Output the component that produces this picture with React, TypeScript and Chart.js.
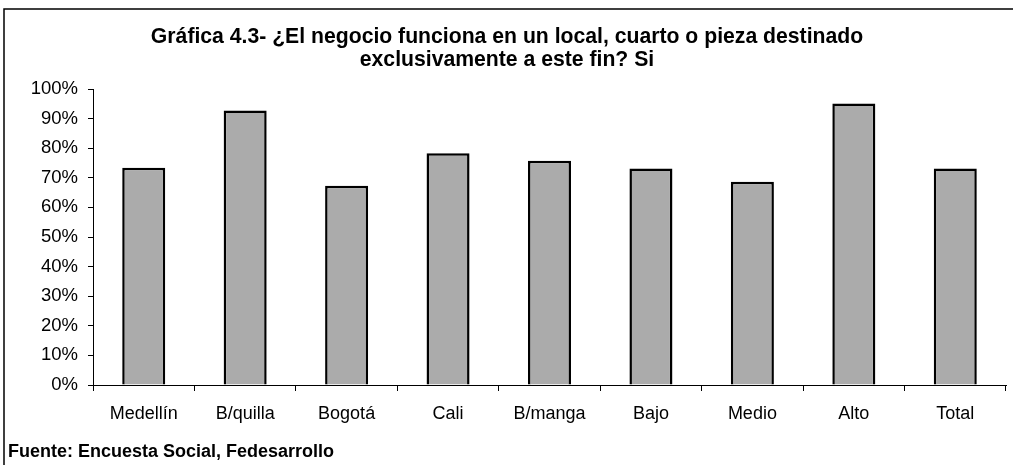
import React, { useEffect, useRef } from "react";
import { Chart, registerables } from "chart.js";

Chart.register(...registerables);

const categories = ["Medellín", "B/quilla", "Bogotá", "Cali", "B/manga", "Bajo", "Medio", "Alto", "Total"];
const siValues = [73.4, 92.7, 67.3, 78.3, 75.8, 73.1, 68.7, 95.1, 73.1];
const yTickValues = [0, 10, 20, 30, 40, 50, 60, 70, 80, 90, 100];
const titleLines = [
  "Gráfica 4.3- ¿El negocio funciona en un local, cuarto o pieza destinado",
  "exclusivamente a este fin? Si",
];
const sourceText = "Fuente: Encuesta Social, Fedesarrollo";

const FONT = "'Liberation Sans', Arial, Helvetica, sans-serif";

const framePlugin = {
  id: "frame",
  afterDraw(chart: any) {
    const ctx = chart.ctx;
    ctx.save();
    ctx.strokeStyle = "#000";
    ctx.lineWidth = 1.5;
    ctx.beginPath();
    ctx.moveTo(4, chart.height);
    ctx.lineTo(4, 9);
    ctx.lineTo(chart.width, 9);
    ctx.stroke();
    ctx.restore();
  },
};

export default function App() {
  const canvasRef = useRef<HTMLCanvasElement | null>(null);

  useEffect(() => {
    if (!canvasRef.current) return;
    const chart = new Chart(canvasRef.current, {
      type: "bar",
      data: {
        labels: categories,
        datasets: [
          {
            label: "Si",
            data: siValues,
            backgroundColor: "#ababab",
            borderColor: "#000",
            borderWidth: 2.5,
            barPercentage: 0.424,
            categoryPercentage: 1,
          },
        ],
      },
      options: {
        responsive: false,
        animation: false,
        layout: { padding: { top: 20, left: 8, right: 7, bottom: 2.2 } },
        plugins: {
          legend: { display: false },
          tooltip: { enabled: false },
          title: {
            display: true,
            text: titleLines,
            color: "#000",
            font: { family: FONT, size: 21.2, weight: "bold", lineHeight: 23 / 21.2 },
            padding: { top: 5.5, bottom: 17.5 },
          },
          subtitle: {
            display: true,
            position: "bottom",
            align: "start",
            text: sourceText,
            color: "#000",
            font: { family: FONT, size: 18, weight: "bold", lineHeight: 1.2 },
            padding: { top: 4.6, bottom: 0 },
          },
        },
        scales: {
          x: {
            grid: {
              display: true,
              drawOnChartArea: false,
              drawTicks: true,
              tickLength: 6,
              color: "#000",
              offset: true,
            },
            border: { display: true, color: "#000", width: 1 },
            ticks: {
              color: "#000",
              font: { family: FONT, size: 18, lineHeight: 1.2 },
              padding: 12,
              maxRotation: 0,
              autoSkip: false,
            },
          },
          y: {
            min: 0,
            max: 100,
            afterFit(scale: any) {
              scale.width = 85;
            },
            afterBuildTicks(scale: any) {
              scale.ticks = yTickValues.map((v) => ({ value: v }));
            },
            grid: {
              display: true,
              drawOnChartArea: false,
              drawTicks: true,
              tickLength: 5,
              color: "#000",
            },
            border: { display: true, color: "#000", width: 1 },
            ticks: {
              color: "#000",
              font: { family: FONT, size: 18.5, lineHeight: 1.2 },
              padding: 10,
              callback: (v: any) => `${v}%`,
            },
          },
        },
      },
      plugins: [framePlugin],
    });
    return () => chart.destroy();
  }, []);

  return (
    <div style={{ position: "absolute", left: 0, top: 0, width: 1013, height: 465, background: "#fff" }}>
      <canvas ref={canvasRef} width={1013} height={465} />
    </div>
  );
}
